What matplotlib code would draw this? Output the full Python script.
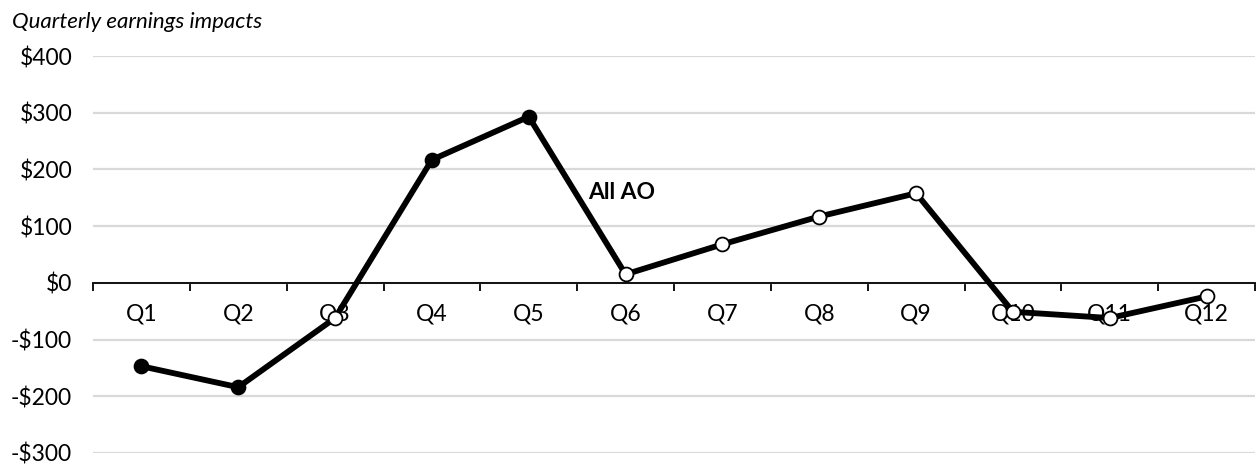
import matplotlib
matplotlib.use("Agg")
import matplotlib.pyplot as plt
import numpy as np

quarters = ["Q1", "Q2", "Q3", "Q4", "Q5", "Q6", "Q7", "Q8", "Q9", "Q10", "Q11", "Q12"]
impacts = [-147, -184, -62, 217, 293, 15, 68, 117, 158, -51, -62, -24]
filled = [True, True, False, True, True, False, False, False, False, False, False, False]
yticks = [-300, -200, -100, 0, 100, 200, 300, 400]
ytick_labels = ["-$300", "-$200", "-$100", "$0", "$100", "$200", "$300", "$400"]

plt.rcParams['font.family'] = ['Lato', 'DejaVu Sans']

fig = plt.figure(figsize=(12.59, 4.68), dpi=100)
ax = fig.add_axes([93/1259, 1-453/468, (1255-93)/1259, (453-56)/468])

x = np.arange(len(quarters))
y = np.array(impacts)
f = np.array(filled)

ax.set_ylim(-300, 400)
ax.set_xlim(-0.5, len(quarters)-0.5)
ax.set_yticks(yticks)
ax.set_yticklabels(ytick_labels, fontsize=16.5)
ax.yaxis.grid(True, color="#d9d9d9", linewidth=1.6)
ax.set_axisbelow(True)
ax.tick_params(axis='y', length=0, pad=15)

for s in ['top', 'right', 'left']:
    ax.spines[s].set_visible(False)
ax.spines['bottom'].set_position(('data', 0))
ax.spines['bottom'].set_linewidth(1.3)
ax.spines['bottom'].set_color('black')

ax.set_xticks(x)
ax.set_xticklabels(quarters, fontsize=16.5)
ax.tick_params(axis='x', which='major', length=0, pad=15)
ax.set_xticks(np.arange(-0.5, len(quarters), 1.0), minor=True)
ax.tick_params(axis='x', which='minor', length=6, width=1.3, direction='out', color='black')

ax.plot(x, y, color='black', linewidth=4.2, zorder=3)
ax.plot(x[f], y[f], linestyle='none', marker='o', markersize=10,
        markerfacecolor='black', markeredgecolor='black', markeredgewidth=1.3, zorder=4)
ax.plot(x[~f], y[~f], linestyle='none', marker='o', markersize=10,
        markerfacecolor='white', markeredgecolor='black', markeredgewidth=1.3, zorder=4)

ax.text(4.96, 160, "All AO", fontsize=16.5, fontweight='bold', ha='center', va='center', zorder=5)

fig.text(12/1259, 1-22/468, "Quarterly earnings impacts", fontsize=16, style='italic',
         ha='left', va='center')

fig.savefig("out.png", dpi=100)
